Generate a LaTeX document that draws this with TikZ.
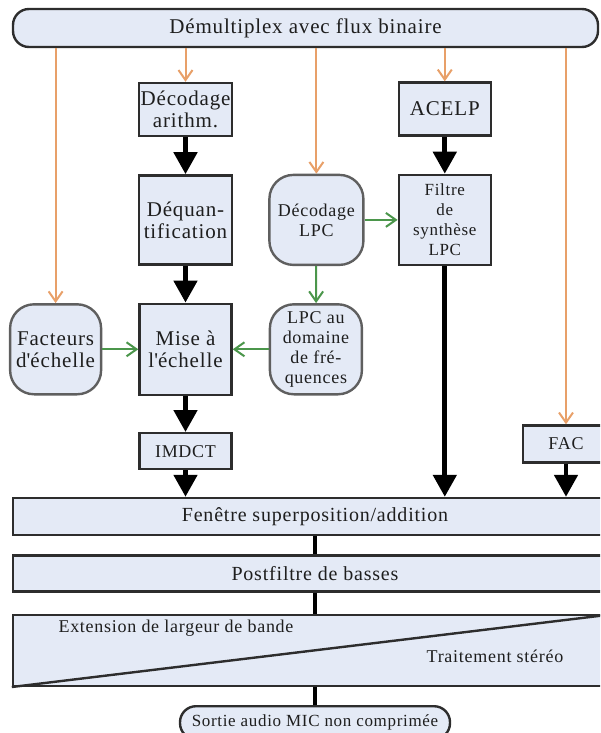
\documentclass[tikz,border=0pt]{standalone}
\usepackage{fontspec}
\setmainfont{Liberation Serif}[LetterSpace=4]
\usepackage{xcolor}
\usepackage{tikz}
\usetikzlibrary{positioning,arrows.meta}
\definecolor{boxfill}{RGB}{228,234,246}
\definecolor{boxline}{RGB}{45,45,45}
\definecolor{softline}{RGB}{95,95,95}
\definecolor{feedorange}{RGB}{232,160,105}
\definecolor{coefgreen}{RGB}{75,150,75}
\definecolor{inktext}{RGB}{30,30,30}

\begin{document}
\begin{tikzpicture}[
    x=0.5pt, y=-0.5pt,
    box/.style={rectangle, draw=boxline, fill=boxfill, line width=1.2pt, align=center, inner sep=1pt, text=inktext, font=\fontsize{10.5}{11}\selectfont},
    soft/.style={box, draw=softline, rounded corners=12pt, font=\fontsize{9}{10}\selectfont},
    band/.style={box, minimum width=302pt, minimum height=18.5pt, font=\fontsize{10}{11}\selectfont},
    pill/.style={box, rounded corners=8pt},
    flow/.style={-{Triangle[width=11.5pt,length=11pt]}, line width=2.4pt, black},
    pipe/.style={line width=2.4pt, black},
    feed/.style={-{Straight Barb[width=7pt,length=5pt]}, line width=1pt, feedorange},
    coef/.style={feed, coefgreen},
    caption/.style={text=inktext, font=\fontsize{9}{10}\selectfont}
]
    \useasboundingbox (0,0) rectangle (600,733);
    \clip (0,0) rectangle (600,733);

    % bitstream demux
    \node[pill, minimum width=292.5pt, minimum height=19pt] (demux) at (305.5,28) {Démultiplex avec flux binaire};

    % frequency domain path
    \node[box, minimum width=46.5pt, minimum height=26.5pt, inner xsep=0pt] (arith) at (185.5,109.5) {Décodage\\arithm.};
    \node[box, minimum width=46.5pt, minimum height=44.5pt, below=18.5pt of arith] (dequant) {Déquan-\\tification};
    \node[box, minimum width=46pt, minimum height=45.5pt, below=18.5pt of dequant] (mise) {Mise à\\l\textquotesingle échelle};
    \node[box, minimum width=46pt, minimum height=18pt, below=18pt of mise, font=\fontsize{9}{10}\selectfont] (imdct) {IMDCT};
    \node[soft, minimum width=45.5pt, minimum height=45pt, left=18pt of mise, font=\fontsize{10.5}{11}\selectfont] (facteurs) {Facteurs\\d\textquotesingle échelle};

    % LPC path
    \node[soft, minimum width=47pt, minimum height=45pt, right=17.5pt of dequant] (declpc) {Décodage\\LPC};
    \node[soft, minimum width=46pt, minimum height=45pt, right=18pt of mise] (lpcdom) {LPC au\\domaine\\de fré-\\quences};
    \node[box, minimum width=46pt, minimum height=45pt, right=16.5pt of declpc, font=\fontsize{8.5}{10}\selectfont] (filtre) {Filtre\\de\\synthèse\\LPC};
    \node[box, minimum width=46pt, minimum height=26.5pt, above=18.5pt of filtre] (acelp) {ACELP};
    \node[box, minimum width=43pt, minimum height=18.5pt, font=\fontsize{9}{10}\selectfont] (fac) at (566,444) {FAC};

    % output chain
    \node[band] (fenetre) at (315,516.5) {Fenêtre superposition/addition};
    \node[band, minimum height=18pt, below=9pt of fenetre] (postfiltre) {Postfiltre de basses};
    \node[band, minimum height=35.5pt, below=10.5pt of postfiltre] (extension) {};
    \draw[line width=1.2pt, boxline] (extension.south west) -- (extension.north east);
    \node[caption] (widening) at (176,628) {Extension de largeur de bande};
    \node[caption] (stereo) at (495,656) {Traitement stéréo};
    \node[pill, minimum width=135pt, minimum height=16.5pt, below=9pt of extension, font=\fontsize{8.5}{10}\selectfont] (sortie) {Sortie audio MIC non comprimée};

    % bitstream feeds
    \draw[feed] (demux.south -| facteurs) -- (facteurs);
    \draw[feed] (demux.south -| arith) -- (arith);
    \draw[feed] (demux.south -| declpc) -- (declpc);
    \draw[feed] (demux.south -| acelp) -- (acelp);
    \draw[feed] (demux.south -| fac) -- (fac);

    % LPC coefficients
    \draw[coef] (declpc) -- (filtre);
    \draw[coef] (declpc) -- (lpcdom);
    \draw[coef] (facteurs) -- (mise);
    \draw[coef] (lpcdom) -- (mise);

    % signal flow
    \draw[flow] (arith) -- (dequant);
    \draw[flow] (dequant) -- (mise);
    \draw[flow] (mise) -- (imdct);
    \draw[flow] (imdct) -- (imdct |- fenetre.north);
    \draw[flow] (acelp) -- (filtre);
    \draw[flow] (filtre) -- (filtre |- fenetre.north);
    \draw[flow] (fac) -- (fac |- fenetre.north);
    \draw[pipe] (fenetre.south -| sortie) -- (postfiltre.north -| sortie);
    \draw[pipe] (postfiltre.south -| sortie) -- (extension.north -| sortie);
    \draw[pipe] (extension.south -| sortie) -- (sortie);
\end{tikzpicture}
\end{document}
